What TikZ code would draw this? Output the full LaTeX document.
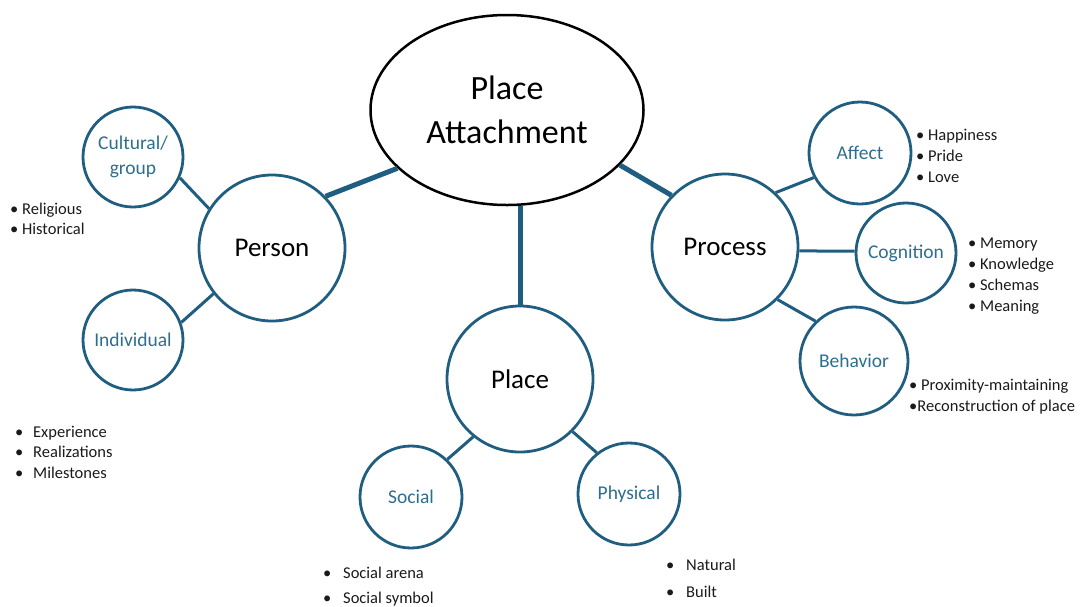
\documentclass[tikz,border=0pt]{standalone}
\usepackage{fontspec}
\setmainfont{Carlito}
\usetikzlibrary{shapes.geometric}
\definecolor{ring}{HTML}{1F5E80}
\definecolor{sublab}{HTML}{2D6E8E}
\definecolor{bultext}{HTML}{1A1A1A}
\newcommand{\bulbox}[1]{\makebox[#1][l]{•}}
\tikzset{
  bigc/.style={circle, draw=ring, line width=2.8pt, minimum size=146pt, inner sep=0pt,
    font=\fontsize{27}{32}\selectfont, text=black},
  subc/.style={circle, draw=ring, line width=2.8pt, inner sep=0pt, align=center,
    font=\fontsize{19.5}{25}\selectfont, text=sublab},
  thick link/.style={draw=ring, line width=5pt},
  thin link/.style={draw=ring, line width=3pt},
  blist/.style={anchor=base west, inner sep=0pt, text=bultext}
}
\begin{document}
\begin{tikzpicture}[x=1pt,y=-1pt]
\useasboundingbox (0,0) rectangle (1086,606);
% central ellipse
\node[ellipse, draw=black, line width=2.5pt, minimum width=273pt, minimum height=190pt,
  inner sep=0pt, align=center, font=\fontsize{34}{44}\selectfont] (pa) at (507,110) {Place\\Attachment};
% main circles
\node[bigc] (person) at (272,248) {Person};
\node[bigc] (place) at (520,379) {Place};
\node[bigc] (process) at (725,247) {Process};
% sub circles
\node[subc, minimum size=100pt] (cult) at (133,157) {Cultural/\\group};
\node[subc, minimum size=100pt] (indiv) at (133,340) {Individual};
\node[subc, minimum size=102pt] (affect) at (860,153) {Affect};
\node[subc, minimum size=100pt] (cog) at (906,253) {Cognition};
\node[subc, minimum size=108pt] (beh) at (854,361) {Behavior};
\node[subc, minimum size=102pt] (social) at (411,497) {Social};
\node[subc, minimum size=102pt] (phys) at (629,494) {Physical};
% thick links
\draw[thick link] (pa.208) -- (person.44);
\draw[thick link] (pa.334) -- (process.136);
\draw[thick link] (place.north) -- (place.north |- pa.south);
% thin links
\draw[thin link] (cult.336) -- (person.148);
\draw[thin link] (indiv.20) -- (person.218);
\draw[thin link] (process.47) -- (affect.208);
\draw[thin link] (process.357) -- (cog.178);
\draw[thin link] (process.315) -- (beh.134);
\draw[thin link] (place.231) -- (social.46);
\draw[thin link] (place.315) -- (phys.128);
% bullet lists
\node[blist] (lrel) at (10,214) {\fontsize{16.5}{20.5}\selectfont
  \begin{tabular}[t]{@{}l@{}}• Religious\\• Historical\end{tabular}};
\node[blist] (lexp) at (15,437) {\fontsize{16.5}{20.5}\selectfont
  \begin{tabular}[t]{@{}l@{}}\bulbox{18pt}Experience\\\bulbox{18pt}Realizations\\\bulbox{18pt}Milestones\end{tabular}};
\node[blist] (laff) at (916,140) {\fontsize{16.5}{21}\selectfont
  \begin{tabular}[t]{@{}l@{}}• Happiness\\• Pride\\• Love\end{tabular}};
\node[blist] (lcog) at (968,248) {\fontsize{16.5}{21}\selectfont
  \begin{tabular}[t]{@{}l@{}}• Memory\\• Knowledge\\• Schemas\\• Meaning\end{tabular}};
\node[blist] (lbeh) at (909,390) {\fontsize{16.5}{21}\selectfont
  \begin{tabular}[t]{@{}l@{}}• Proximity-maintaining\\•Reconstruction of place\end{tabular}};
\node[blist] (lsoc) at (323,578) {\fontsize{16.5}{25}\selectfont
  \begin{tabular}[t]{@{}l@{}}\bulbox{20pt}Social arena\\\bulbox{20pt}Social symbol\end{tabular}};
\node[blist] (lphy) at (666,570) {\fontsize{16.5}{27.5}\selectfont
  \begin{tabular}[t]{@{}l@{}}\bulbox{20pt}Natural\\\bulbox{20pt}Built\end{tabular}};
\end{tikzpicture}
\end{document}
